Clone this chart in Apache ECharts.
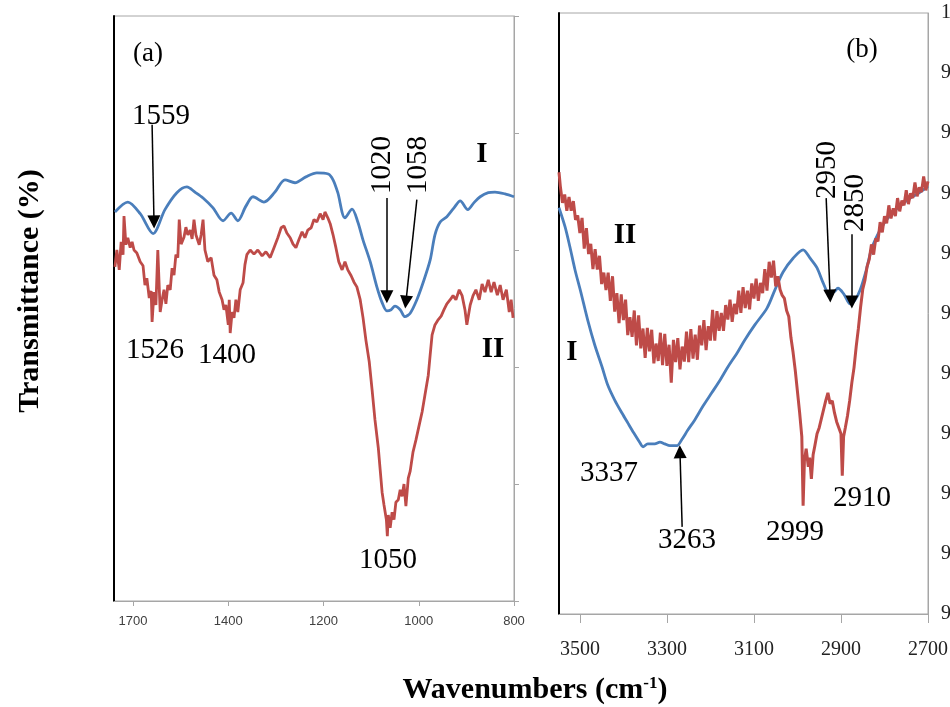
<!DOCTYPE html>
<html>
<head>
<meta charset="utf-8">
<script src="https://cdn.jsdelivr.net/npm/echarts@6/dist/echarts.min.js"></script>
<style>
  html, body { margin: 0; padding: 0; background: #fff; }
  #chart { width: 950px; height: 707px; }
</style>
</head>
<body>
<div id="chart"></div>
<script>
// ---- panel (a): 1640 - 800 cm-1 ----
const ticksA = [1600, 1400, 1200, 1000, 800];
const tickLabelsA = ['1700', '1400', '1200', '1000', '800'];

// curve I (blue)
const wnA_I = [1638, 1611, 1585, 1558, 1533, 1508, 1487, 1470, 1453, 1432, 1411, 1394, 1380, 1363, 1348, 1325, 1302, 1281, 1260, 1237,
  1214, 1190, 1180, 1170, 1155, 1140, 1128, 1117, 1102, 1088, 1077, 1067, 1058, 1050, 1039, 1029, 1018, 1004, 991, 976,
  966, 955, 941, 926, 913, 897, 884, 871, 854, 840, 819, 800];
const tA_I = [66.5, 68.2, 66.2, 62.8, 66.9, 69.8, 70.8, 69.9, 68.9, 67.2, 65.0, 66.3, 65.0, 67.5, 69.1, 68.2, 69.9, 72.0, 71.5, 72.5,
  73.2, 73.0, 72.0, 69.8, 65.5, 67.0, 64.8, 61.7, 58.0, 53.7, 51.0, 49.6, 49.8, 50.4, 49.8, 48.6, 49.2, 51.5, 54.4, 58.3,
  62.6, 64.8, 65.7, 67.2, 68.4, 66.9, 68.1, 69.1, 69.8, 69.9, 69.6, 69.1];

// curve II (red)
const wnA_II = [1638, 1634, 1629, 1625, 1621, 1619, 1615, 1611, 1606, 1602, 1598, 1592, 1585, 1579, 1575, 1571, 1566, 1562, 1560, 1556,
  1552, 1548, 1543, 1539, 1535, 1531, 1527, 1522, 1518, 1514, 1510, 1506, 1503, 1499, 1493, 1489, 1485, 1480, 1476, 1472,
  1468, 1461, 1457, 1453, 1449, 1443, 1436, 1430, 1424, 1419, 1413, 1409, 1405, 1400, 1398, 1396, 1392, 1388, 1384, 1380,
  1375, 1369, 1365, 1361, 1354, 1346, 1338, 1329, 1321, 1312, 1304, 1296, 1289, 1283, 1277, 1270, 1264, 1258, 1252, 1245,
  1239, 1233, 1226, 1220, 1214, 1207, 1201, 1197, 1191, 1186, 1180, 1174, 1168, 1161, 1155, 1149, 1142, 1136, 1130, 1123,
  1117, 1111, 1104, 1098, 1092, 1085, 1081, 1077, 1073, 1068, 1066, 1064, 1060, 1056, 1052, 1048, 1043, 1039, 1035, 1031,
  1027, 1022, 1018, 1012, 1006, 999, 993, 987, 980, 976, 972, 966, 959, 953, 947, 941, 934, 928, 922, 915,
  909, 903, 899, 892, 886, 880, 873, 867, 861, 854, 848, 842, 835, 829, 823, 816, 810, 806, 802];
const tA_II = [57.1, 60.0, 56.6, 61.4, 59.2, 65.8, 60.9, 62.1, 60.4, 61.4, 60.0, 59.5, 58.0, 57.3, 54.0, 55.2, 51.8, 53.0, 47.7, 52.8,
  50.6, 60.0, 49.4, 51.5, 53.2, 50.8, 54.0, 53.2, 56.9, 55.7, 59.2, 58.7, 65.2, 61.0, 62.2, 63.9, 62.6, 63.4, 61.9, 65.2,
  62.6, 60.9, 62.6, 65.2, 60.0, 58.0, 58.7, 55.7, 54.9, 52.8, 51.5, 49.8, 50.6, 47.2, 51.5, 45.8, 49.4, 48.4, 51.5, 49.4,
  53.2, 54.4, 57.5, 59.2, 60.0, 59.3, 60.0, 59.0, 59.7, 58.7, 60.4, 62.1, 63.8, 64.1, 62.9, 62.1, 61.0, 60.4, 61.7, 63.1,
  62.1, 63.4, 63.8, 65.2, 64.8, 66.2, 65.2, 66.5, 65.5, 64.5, 62.6, 60.4, 58.0, 56.6, 58.0, 56.6, 55.6, 54.5, 53.7, 51.5,
  48.4, 44.6, 40.9, 36.1, 31.0, 26.2, 22.4, 18.6, 16.4, 13.9, 11.1, 14.7, 12.5, 15.2, 13.9, 16.9, 17.3, 19.0, 17.9, 20.0,
  16.2, 21.0, 22.2, 25.5, 27.5, 30.1, 32.3, 35.2, 38.6, 42.1, 45.5, 47.2, 48.1, 48.7, 49.8, 50.8, 51.5, 52.2, 51.5, 53.2,
  52.2, 49.8, 47.2, 50.6, 52.2, 53.2, 51.5, 54.2, 52.8, 54.9, 52.8, 54.5, 52.3, 54.0, 51.5, 53.2, 49.4, 51.5, 48.4];

// ---- panel (b): 3548 - 2700 cm-1 ----
const ticksB = [3500, 3300, 3100, 2900, 2700];

const wnB_I = [3548, 3534, 3523, 3511, 3498, 3482, 3466, 3449, 3436, 3420, 3403, 3390, 3376, 3362, 3355, 3344, 3328, 3316, 3305, 3293,
  3277, 3266, 3252, 3236, 3217, 3197, 3178, 3160, 3139, 3121, 3098, 3070, 3052, 3033, 3010, 2987, 2971, 2955, 2941, 2928,
  2916, 2907, 2893, 2879, 2868, 2856, 2842, 2829, 2810, 2792, 2769, 2741, 2718, 2700];
const tB_I = [96.76, 96.44, 96.11, 95.72, 95.36, 94.89, 94.48, 94.11, 93.81, 93.56, 93.34, 93.18, 93.01, 92.85, 92.78, 92.83, 92.83, 92.86, 92.83, 92.80,
  92.80, 92.90, 93.06, 93.23, 93.46, 93.68, 93.89, 94.11, 94.34, 94.56, 94.81, 95.09, 95.39, 95.69, 95.92, 96.06, 95.92, 95.76, 95.51, 95.34,
  95.36, 95.42, 95.32, 95.16, 95.22, 95.39, 95.72, 96.09, 96.39, 96.59, 96.76, 96.92, 97.02, 97.12];

const wnB_II = [3548, 3545, 3540, 3535, 3530, 3525, 3520, 3515, 3510, 3505, 3500, 3495, 3490, 3485, 3480, 3475, 3470, 3465, 3460, 3455,
  3450, 3445, 3440, 3435, 3430, 3425, 3420, 3415, 3410, 3405, 3400, 3395, 3390, 3385, 3380, 3375, 3370, 3365, 3360, 3355,
  3350, 3345, 3340, 3335, 3330, 3325, 3320, 3315, 3310, 3305, 3300, 3295, 3290, 3285, 3280, 3275, 3270, 3265, 3260, 3255,
  3250, 3245, 3240, 3235, 3230, 3225, 3220, 3215, 3210, 3205, 3200, 3195, 3190, 3185, 3180, 3175, 3170, 3165, 3160, 3155,
  3150, 3145, 3140, 3135, 3130, 3125, 3120, 3115, 3110, 3105, 3100, 3095, 3090, 3085, 3080, 3075, 3070, 3065, 3060, 3055,
  3050, 3045, 3040, 3035, 3030, 3025, 3020, 3015, 3010, 3005, 3000, 2995, 2990, 2987, 2984, 2980, 2975, 2972, 2968, 2964,
  2960, 2955, 2950, 2945, 2940, 2935, 2930, 2925, 2920, 2915, 2910, 2905, 2900, 2897, 2894, 2890, 2885, 2880, 2875, 2870,
  2865, 2860, 2855, 2850, 2845, 2840, 2835, 2830, 2825, 2820, 2815, 2810, 2805, 2800, 2795, 2790, 2785, 2780, 2775, 2770,
  2765, 2760, 2755, 2750, 2745, 2740, 2735, 2730, 2725, 2720, 2715, 2710, 2705, 2700];
const tB_II = [97.35, 97.12, 96.84, 96.98, 96.71, 96.94, 96.71, 96.87, 96.56, 96.63, 96.34, 96.59, 96.08, 96.42, 95.99, 96.16, 95.74, 96.07, 95.73, 95.96,
  95.49, 95.68, 95.39, 95.68, 95.21, 95.62, 95.03, 95.34, 94.84, 95.32, 94.89, 95.23, 94.64, 94.94, 94.61, 95.05, 94.47, 94.97, 94.42, 94.75,
  94.26, 94.76, 94.37, 94.73, 94.17, 94.50, 94.21, 94.68, 94.14, 94.66, 94.13, 94.48, 93.85, 94.56, 94.19, 94.59, 94.07, 94.45, 94.20, 94.70,
  94.19, 94.74, 94.25, 94.65, 94.23, 94.80, 94.47, 94.89, 94.39, 94.79, 94.55, 95.06, 94.55, 95.04, 94.71, 95.01, 94.71, 95.14, 94.90, 95.23,
  94.86, 95.16, 94.99, 95.38, 95.01, 95.44, 95.09, 95.38, 95.07, 95.50, 95.25, 95.58, 95.21, 95.51, 95.34, 95.74, 95.38, 95.86, 95.60, 95.88,
  95.45, 95.62, 95.40, 95.30, 95.25, 95.05, 94.95, 94.60, 94.35, 94.05, 93.70, 93.35, 92.95, 91.80, 92.55, 92.75, 92.45, 92.60, 92.25, 92.65,
  92.80, 93.00, 93.10, 93.25, 93.40, 93.55, 93.68, 93.50, 93.55, 93.35, 93.20, 93.10, 93.00, 92.30, 92.95, 93.10, 93.30, 93.55, 93.85, 94.10,
  94.45, 94.75, 95.10, 95.40, 95.55, 95.78, 95.90, 96.15, 95.98, 96.25, 96.20, 96.52, 96.35, 96.62, 96.50, 96.80, 96.58, 96.75, 96.62, 96.92,
  96.70, 96.88, 96.80, 97.05, 96.82, 97.00, 96.92, 97.18, 96.95, 97.10, 97.02, 97.28, 97.05, 97.20];

// arrows: [from, to] in data units
const arrowsA = [
  [[1560, 81.4], [1556, 64.8]],
  [[1067, 68.9], [1067, 52.0]],
  [[1004, 68.6], [1027, 51.1]]
];
const arrowsB = [
  [[2934, 96.92], [2925, 95.29]],
  [[2875, 96.32], [2875, 95.19]],
  [[3265, 91.45], [3270, 92.70]]
];

const BLUE = '#4a7ebb';
const RED = '#be4b48';
const SERIF = "'Liberation Serif', 'Times New Roman', serif";

const zip = (xs, ys) => xs.map((x, i) => [x, ys[i]]);

function arrowLines(list) {
    return {
        silent: true,
        symbol: ['none', 'triangle'],
        symbolSize: 13,
        label: { show: false },
        lineStyle: { color: '#000', width: 1.5, type: 'solid' },
        emphasis: { disabled: true },
        data: list.map(([a, b]) => [{ coord: a }, { coord: b }])
    };
}

function txt(text, x, y, opts = {}) {
    return {
        type: 'text',
        x: x,
        y: y,
        rotation: opts.rot ? Math.PI / 2 : 0,
        z: 100,
        style: {
            text: text,
            font: (opts.bold ? 'bold ' : '') + (opts.size || 29) + 'px ' + SERIF,
            fill: '#000',
            align: 'center',
            verticalAlign: 'middle'
        }
    };
}

const chart = echarts.init(document.getElementById('chart'));

const option = {
    animation: false,
    backgroundColor: '#fff',
    grid: [
        { left: 114, right: 436, top: 16, bottom: 106, show: true, borderColor: '#a6a6a6', borderWidth: 1,
          containLabel: false, outerBoundsMode: 'none' },
        { left: 559, right: 22, top: 13, bottom: 93, show: true, borderColor: '#a6a6a6', borderWidth: 1,
          containLabel: false, outerBoundsMode: 'none' }
    ],
    xAxis: [
        {
            gridIndex: 0, type: 'value', inverse: true, min: 800, max: 1640,
            axisLine: { lineStyle: { color: '#a6a6a6', width: 1 } },
            axisTick: { show: true, length: 5, lineStyle: { color: '#a6a6a6' }, customValues: ticksA },
            axisLabel: {
                customValues: ticksA, margin: 14,
                color: '#404040', fontFamily: "'Liberation Sans', Arial, sans-serif", fontSize: 13,
                formatter: v => tickLabelsA[ticksA.indexOf(v)]
            },
            splitLine: { show: false }
        },
        {
            gridIndex: 1, type: 'value', inverse: true, min: 2700, max: 3548,
            axisLine: { lineStyle: { color: '#a6a6a6', width: 1 } },
            axisTick: { show: true, length: 9, lineStyle: { color: '#a6a6a6' }, customValues: ticksB },
            axisLabel: {
                customValues: ticksB, margin: 26,
                color: '#222', fontFamily: SERIF, fontSize: 20,
                formatter: v => String(v)
            },
            splitLine: { show: false }
        }
    ],
    yAxis: [
        {
            gridIndex: 0, type: 'value', min: 0, max: 100, interval: 20, position: 'left',
            axisLine: { show: true, lineStyle: { color: '#000', width: 2 } },
            axisTick: { show: false }, axisLabel: { show: false }, splitLine: { show: false }
        },
        {
            gridIndex: 0, type: 'value', min: 0, max: 100, interval: 20, position: 'right',
            axisLine: { show: true, lineStyle: { color: '#a6a6a6', width: 1 } },
            axisTick: { show: true, length: 5, lineStyle: { color: '#a6a6a6' } },
            axisLabel: { show: false }, splitLine: { show: false }
        },
        {
            gridIndex: 1, type: 'value', min: 90, max: 100, interval: 1, position: 'left',
            axisLine: { show: true, lineStyle: { color: '#000', width: 2 } },
            axisTick: { show: false }, axisLabel: { show: false }, splitLine: { show: false }
        },
        {
            gridIndex: 1, type: 'value', min: 90, max: 100, interval: 1, position: 'right',
            axisLine: { show: true, lineStyle: { color: '#a6a6a6', width: 1 } },
            axisTick: { show: false },
            axisLabel: { margin: 13, color: '#222', fontFamily: SERIF, fontSize: 20 },
            splitLine: { show: false }
        }
    ],
    series: [
        {
            name: 'I (a)', type: 'line', xAxisIndex: 0, yAxisIndex: 0,
            data: zip(wnA_I, tA_I), showSymbol: false, smooth: 0.3,
            lineStyle: { color: BLUE, width: 2.8 }
        },
        {
            name: 'II (a)', type: 'line', xAxisIndex: 0, yAxisIndex: 0,
            data: zip(wnA_II, tA_II), showSymbol: false,
            lineStyle: { color: RED, width: 2.8 },
            markLine: arrowLines(arrowsA)
        },
        {
            name: 'I (b)', type: 'line', xAxisIndex: 1, yAxisIndex: 2,
            data: zip(wnB_I, tB_I), showSymbol: false, smooth: 0.3,
            lineStyle: { color: BLUE, width: 2.8 }
        },
        {
            name: 'II (b)', type: 'line', xAxisIndex: 1, yAxisIndex: 2,
            data: zip(wnB_II, tB_II), showSymbol: false,
            lineStyle: { color: RED, width: 3 },
            markLine: arrowLines(arrowsB)
        }
    ],
    graphic: [
        txt('(a)', 148, 54, { size: 27 }),
        txt('1559', 161, 116),
        txt('I', 482, 155, { bold: true, size: 29 }),
        txt('1020', 382, 165, { rot: true }),
        txt('1058', 418, 165, { rot: true }),
        txt('1526', 155, 350),
        txt('1400', 227, 355),
        txt('II', 493, 350, { bold: true, size: 29 }),
        txt('1050', 388, 560),
        txt('(b)', 862, 50, { size: 27 }),
        txt('II', 625, 236, { bold: true, size: 29 }),
        txt('I', 572, 353, { bold: true, size: 29 }),
        txt('2950', 827, 170, { rot: true }),
        txt('2850', 855, 203, { rot: true }),
        txt('3337', 609, 473),
        txt('3263', 687, 540),
        txt('2999', 795, 532),
        txt('2910', 862, 498),
        txt('Transmittance (%)', 30, 291, { rot: true, bold: true, size: 30 }),
        {
            type: 'text', x: 535, y: 690, z: 100,
            style: {
                text: '{m|Wavenumbers (cm}{s|-1}{m|)}',
                align: 'center', verticalAlign: 'middle', fill: '#000',
                rich: {
                    m: { font: 'bold 30px ' + SERIF, fill: '#000' },
                    s: { font: 'bold 17px ' + SERIF, fill: '#000', verticalAlign: 'top' }
                }
            }
        }
    ]
};

chart.setOption(option);
</script>
</body>
</html>
